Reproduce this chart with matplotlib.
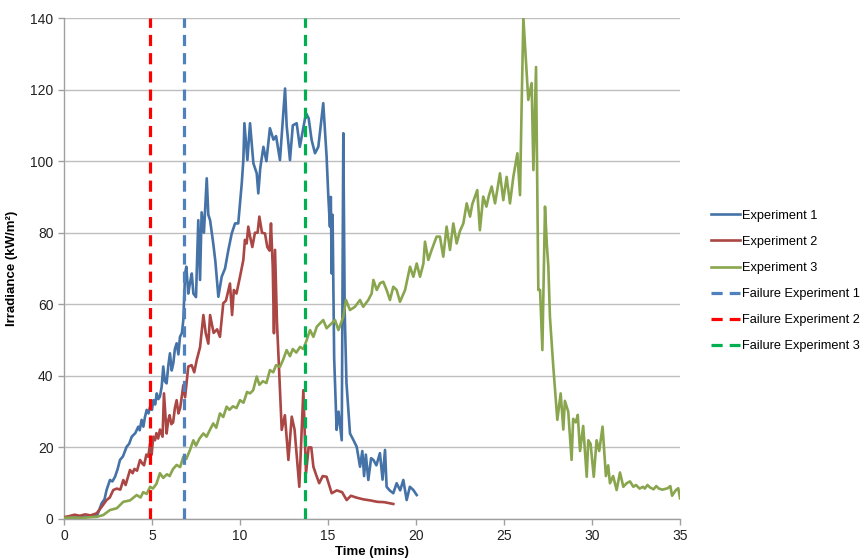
import numpy as np
import matplotlib
matplotlib.use("Agg")
import matplotlib.pyplot as plt

plt.rcParams['font.family'] = ['Liberation Sans', 'DejaVu Sans']

# (time in mins, irradiance kW/m2)
exp1 = [(0, 0.3), (0.3, 0.5), (0.6, 0.4), (0.9, 0.8), (1.2, 0.6), (1.5, 1.0), (1.86, 0.8),
        (2.0, 2.5), (2.14, 4.4), (2.3, 5.5), (2.42, 8.1), (2.61, 10.9), (2.75, 10.5), (2.9, 11.8),
        (3.05, 14.0), (3.18, 16.5), (3.35, 17.5), (3.56, 20.2), (3.7, 21.0), (3.85, 23.0),
        (4.05, 24.0), (4.22, 25.8), (4.3, 24.8), (4.41, 27.7), (4.51, 25.8), (4.6, 28.5),
        (4.7, 30.5), (4.8, 29.5), (4.89, 31.4), (5.0, 30.5), (5.08, 33.2), (5.18, 32.0),
        (5.27, 35.1), (5.36, 33.5), (5.45, 34.2), (5.55, 37.0), (5.64, 42.6), (5.73, 38.5),
        (5.83, 37.9), (5.93, 43.0), (6.02, 46.3), (6.12, 41.5), (6.21, 43.5), (6.3, 47.5),
        (6.4, 49.1), (6.5, 46.0), (6.59, 50.9), (6.7, 52.0), (6.78, 55.6), (6.88, 68.6),
        (6.95, 70.5), (7.06, 63), (7.16, 66.0), (7.26, 68.6), (7.35, 63), (7.5, 62),
        (7.63, 83.5), (7.73, 66.8), (7.82, 85.7), (7.95, 80), (8.11, 95.2), (8.2, 85),
        (8.30, 83.5), (8.48, 77), (8.6, 72), (8.77, 62.1), (8.96, 67.7), (9.15, 70),
        (9.34, 75.2), (9.53, 79.8), (9.72, 82.6), (9.9, 82.6), (10.1, 93.8), (10.19, 100.3),
        (10.25, 110.6), (10.42, 100.3), (10.57, 110.6), (10.76, 99.4), (10.95, 96.6),
        (11.04, 91), (11.15, 98), (11.33, 104), (11.5, 100), (11.7, 109.2), (11.9, 106),
        (12.05, 107), (12.27, 100.3), (12.56, 120.3), (12.65, 110), (12.84, 100.3), (13.0, 110),
        (13.22, 110.6), (13.4, 104), (13.55, 108), (13.75, 113.4), (13.9, 112), (14.07, 105.9),
        (14.26, 102.2), (14.45, 104), (14.73, 116.2), (14.92, 101.3), (15.02, 90), (15.11, 81.7),
        (15.16, 90), (15.21, 68.6), (15.26, 85), (15.35, 45), (15.49, 24.9), (15.6, 30),
        (15.78, 22), (15.87, 107.8), (15.95, 57.5), (16.05, 38), (16.25, 23.9), (16.45, 22),
        (16.63, 20.2), (16.82, 14.6), (16.95, 19), (17.05, 12), (17.15, 18), (17.29, 10.9),
        (17.45, 17), (17.58, 16.5), (17.75, 15), (17.95, 18.4), (18.1, 11), (18.24, 19.3),
        (18.33, 9), (18.5, 8), (18.71, 7.2), (18.9, 10), (19.1, 8), (19.28, 10.9), (19.47, 5.3),
        (19.65, 9), (19.85, 8.1), (20.04, 6.7)]

exp2 = [(0, 0.5), (0.3, 0.8), (0.6, 1.2), (0.9, 0.9), (1.2, 1.3), (1.5, 1.0), (1.86, 1.6),
        (2.14, 3.4), (2.42, 5.3), (2.6, 6.0), (2.8, 8.1), (3.0, 8.5), (3.2, 8.2), (3.37, 10.9),
        (3.5, 9.5), (3.75, 13.7), (3.9, 12.8), (4.0, 14), (4.15, 13.5), (4.32, 16.5),
        (4.45, 15.5), (4.55, 15), (4.68, 18.0), (4.79, 17.4), (4.89, 21.1), (4.98, 18),
        (5.07, 23), (5.17, 22), (5.25, 24), (5.35, 22.5), (5.45, 25), (5.6, 23), (5.68, 35.1),
        (5.83, 23.9), (5.92, 27.5), (6.0, 29), (6.1, 26.5), (6.2, 27), (6.3, 31.0), (6.4, 33.2),
        (6.5, 29.5), (6.6, 31), (6.7, 34.5), (6.78, 37.4), (6.88, 34), (7.06, 42.6), (7.25, 43),
        (7.4, 41), (7.54, 44.4), (7.73, 48), (7.92, 57), (8.05, 52), (8.2, 49), (8.3, 57),
        (8.5, 52), (8.7, 53), (8.86, 50.9), (9.05, 60.3), (9.2, 61), (9.43, 65.8), (9.55, 57),
        (9.65, 64), (9.8, 63), (10.0, 67.7), (10.19, 72.4), (10.28, 78), (10.38, 77),
        (10.47, 81.7), (10.57, 79), (10.7, 76), (10.85, 80), (11.0, 80), (11.1, 84.5),
        (11.25, 80), (11.42, 79.8), (11.55, 76), (11.68, 75), (11.76, 82.6), (11.86, 70.5),
        (11.93, 51.9), (11.99, 75.2), (12.1, 55), (12.23, 40.7), (12.37, 24.9), (12.55, 29),
        (12.75, 16.5), (12.94, 28.6), (13.1, 25), (13.37, 9), (13.6, 36), (13.75, 12.8),
        (13.9, 20), (14.05, 20), (14.17, 14.6), (14.35, 12), (14.5, 10), (14.7, 12),
        (14.92, 11.8), (15.21, 7.2), (15.5, 8), (15.8, 7.5), (16.06, 5.3), (16.3, 6.5),
        (16.6, 6), (17.0, 5.5), (17.4, 5.2), (17.8, 4.8), (18.2, 4.7), (18.71, 4.2)]

exp3 = [(0, 0.3), (0.5, 0.4), (1.0, 0.3), (1.5, 0.5), (1.86, 0.6), (2.23, 1.1), (2.61, 2.5),
        (3.0, 3.0), (3.37, 4.8), (3.75, 5.2), (4.13, 6.7), (4.35, 6.0), (4.5, 7.5), (4.7, 7.0),
        (4.89, 9.0), (5.05, 8.5), (5.25, 9.8), (5.45, 12.8), (5.64, 11.5), (5.85, 12.5),
        (6.0, 12.0), (6.2, 14.0), (6.4, 15.1), (6.6, 14.5), (6.78, 17.4), (6.95, 16.8),
        (7.16, 19.3), (7.35, 22), (7.5, 20.5), (7.7, 22.5), (7.92, 23.9), (8.1, 23.0),
        (8.3, 25), (8.48, 26.7), (8.65, 25.5), (8.86, 29.5), (9.05, 28.5), (9.24, 31.4),
        (9.4, 30.5), (9.6, 31.5), (9.8, 31.0), (10.0, 33.2), (10.2, 32.5), (10.4, 35.5),
        (10.57, 35.1), (10.75, 36.0), (10.95, 39.8), (11.1, 37.5), (11.3, 38.5), (11.5, 38.0),
        (11.7, 41.6), (11.89, 41.0), (12.05, 43.0), (12.27, 42.5), (12.45, 44.5), (12.65, 47.2),
        (12.84, 45.5), (13.0, 47.5), (13.2, 46.5), (13.41, 48.1), (13.6, 47.5), (13.79, 50),
        (13.98, 52.8), (14.17, 50.9), (14.36, 53.7), (14.55, 54.7), (14.73, 55.6), (14.92, 53.3),
        (15.11, 54.2), (15.4, 55.6), (15.59, 52.8), (15.87, 56.5), (16.02, 61.2), (16.25, 58.4),
        (16.53, 59.3), (16.82, 61.2), (17.0, 59.3), (17.29, 61.2), (17.48, 63.0), (17.58, 66.8),
        (17.77, 64.0), (17.96, 65.9), (18.14, 66.3), (18.33, 64.0), (18.52, 61.2), (18.71, 64.9),
        (18.9, 64.0), (19.09, 60.7), (19.38, 64.0), (19.66, 70.5), (19.85, 67.7), (20.04, 71.4),
        (20.23, 67.7), (20.42, 71.4), (20.51, 77.5), (20.7, 72.4), (20.89, 75.2), (21.17, 78.9),
        (21.36, 78.9), (21.55, 73.3), (21.74, 81.7), (21.93, 75.2), (22.12, 82.6), (22.31, 77.0),
        (22.5, 80.5), (22.69, 82.6), (22.88, 88.2), (23.07, 84.5), (23.2, 88.0), (23.35, 90.1),
        (23.48, 91.9), (23.63, 80.7), (23.82, 90.1), (24.0, 87.3), (24.15, 90.5), (24.3, 92.9),
        (24.49, 88.2), (24.62, 92.0), (24.77, 96.6), (24.96, 89.1), (25.15, 95.6), (25.34, 88.2),
        (25.53, 95.6), (25.76, 102.2), (25.91, 90.5), (26.0, 115), (26.1, 140), (26.38, 117.1),
        (26.57, 121.8), (26.67, 97.5), (26.82, 126.3), (26.95, 64), (27.05, 64), (27.18, 47.2),
        (27.33, 87.3), (27.43, 77.0), (27.52, 70.5), (27.61, 56.5), (27.8, 42.6), (28.03, 27.7),
        (28.22, 35.1), (28.37, 25), (28.46, 33), (28.65, 30), (28.84, 16.5), (28.93, 28),
        (29.08, 27), (29.19, 29.1), (29.32, 19), (29.5, 26), (29.7, 11.8), (29.79, 22),
        (29.92, 21), (30.1, 11.8), (30.26, 22), (30.41, 19), (30.6, 25.8), (30.79, 12),
        (30.92, 15), (31.02, 10), (31.2, 12), (31.4, 8.1), (31.59, 13), (31.78, 9), (31.97, 10),
        (32.16, 10.5), (32.35, 9.0), (32.5, 9.5), (32.7, 8.5), (32.9, 9.0), (33.0, 8.5),
        (33.15, 9.5), (33.3, 8.8), (33.5, 8.3), (33.65, 9.2), (33.8, 8.5), (34.0, 8.2),
        (34.3, 8.6), (34.45, 9.2), (34.55, 6.5), (34.75, 8.0), (34.9, 8.6), (35.0, 5.8)]

failure_times = [6.82, 4.89, 13.69]
series_labels = ['Experiment 1', 'Experiment 2', 'Experiment 3']
failure_labels = ['Failure Experiment 1', 'Failure Experiment 2', 'Failure Experiment 3']
x_ticks = [0, 5, 10, 15, 20, 25, 30, 35]
y_ticks = [0, 20, 40, 60, 80, 100, 120, 140]

line_colors = ['#4572A7', '#AA4643', '#89A54E']
fail_colors = ['#4F81BD', '#FF0000', '#00B050']

fig = plt.figure(figsize=(8.64, 5.6), dpi=100)
ax = fig.add_axes([64/864, 41/560, 616/864, 501/560])

for data, lab, c in zip([exp1, exp2, exp3], series_labels, line_colors):
    arr = np.array(data)
    ax.plot(arr[:, 0], arr[:, 1], color=c, lw=1.9, label=lab, zorder=3,
            solid_joinstyle='round')

for ft, lab, c in zip(failure_times, failure_labels, fail_colors):
    ax.axvline(ft, color=c, lw=2.3, ls=(0, (3.5, 2.2)), label=lab, zorder=4)

ax.set_xlim(0, 35)
ax.set_ylim(0, 140)
ax.set_xticks(x_ticks)
ax.set_yticks(y_ticks)
ax.grid(axis='y', color='#BEBEBE', lw=1.0, zorder=0)
ax.set_axisbelow(True)
for s in ['top', 'right']:
    ax.spines[s].set_visible(False)
for s in ['left', 'bottom']:
    ax.spines[s].set_color('#A0A0A0')
    ax.spines[s].set_linewidth(1.0)
ax.tick_params(axis='both', colors='#A0A0A0', labelcolor='#222222', labelsize=10,
               length=4, width=1, direction='out')
ax.set_xlabel('Time (mins)', fontsize=9.5, fontweight='bold', labelpad=2)
ax.set_ylabel('Irradiance (kW/m²)', fontsize=9.5, fontweight='bold', labelpad=9)

leg = ax.legend(loc='center left', bbox_to_anchor=(1.031, 0.475), frameon=False,
                fontsize=9.2, handlelength=2.3, labelspacing=1.1, handletextpad=0.15)

fig.savefig('out.png', dpi=100)
